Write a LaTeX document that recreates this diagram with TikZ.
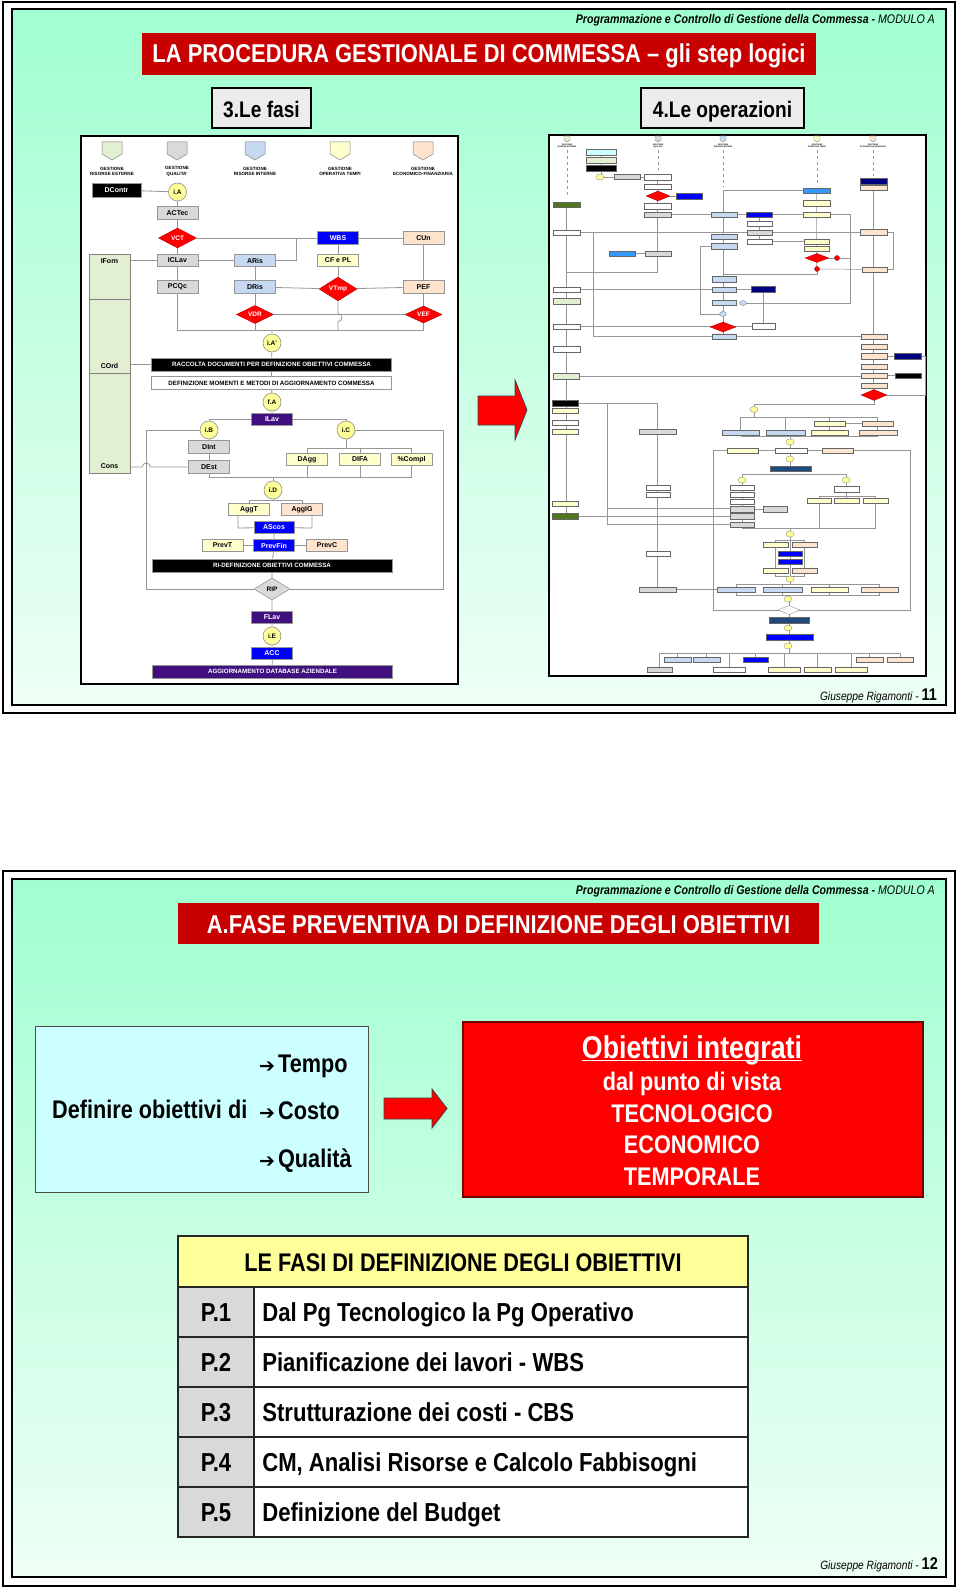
\documentclass[tikz,border=0pt]{standalone}
\usepackage{fontspec}
\setmainfont{Liberation Sans}
\newfontfamily\narrowfont[FakeStretch=0.85]{Liberation Sans}
\newfontfamily\dingfont{DejaVu Sans}
\usetikzlibrary{positioning,calc,shapes.geometric,arrows.meta}

\definecolor{mintT}{RGB}{160,255,208}
\definecolor{mintB}{RGB}{238,255,246}
\definecolor{titred}{RGB}{200,0,0}
\definecolor{boxgray}{RGB}{217,217,217}
\definecolor{lblue}{RGB}{198,217,241}
\definecolor{lyell}{RGB}{255,255,204}
\definecolor{peach}{RGB}{252,228,206}
\definecolor{laneg}{RGB}{226,239,210}
\definecolor{purp}{RGB}{64,16,128}
\definecolor{linegray}{RGB}{150,150,150}
\definecolor{cyanbox}{RGB}{204,255,255}
\definecolor{azure}{RGB}{51,153,255}
\definecolor{navy}{RGB}{0,0,128}
\definecolor{navyb}{RGB}{31,73,125}
\definecolor{dkgreen}{RGB}{79,120,30}
\definecolor{ltyellow}{RGB}{255,255,153}

\begin{document}
\begin{tikzpicture}[x=1pt,y=-1pt,
    conn/.style={draw=linegray, line width=0.8},
    oline/.style={draw=linegray, line width=0.5},
    fbox/.style={rectangle, draw=linegray, line width=0.6, minimum width=41, minimum height=12.5, inner sep=0pt, font=\bfseries\fontsize{7}{8}\selectfont},
    gbox/.style={fbox, fill=boxgray},
    bbox/.style={fbox, fill=lblue},
    ybox/.style={fbox, fill=lyell},
    pbox/.style={fbox, fill=peach},
    wbox/.style={fbox, fill=white},
    kbox/.style={fbox, fill=black, text=white},
    blbox/.style={fbox, fill=blue, text=white},
    pubox/.style={fbox, fill=purp, text=white},
    wide/.style={minimum width=240, minimum height=13, font=\bfseries\fontsize{6.2}{7}\selectfont},
    dec/.style={diamond, fill=red, draw=red!70!black, line width=0.4, minimum width=38, minimum height=20, inner sep=0pt, text=white, font=\bfseries\fontsize{6.5}{7}\selectfont},
    ring/.style={circle, fill=ltyellow, draw=gray, line width=0.5, minimum size=18, inner sep=0pt, font=\bfseries\fontsize{6.5}{7}\selectfont},
    lane/.style={rectangle, draw=gray, line width=0.6, fill=laneg, minimum width=41, inner sep=0pt},
    lanetxt/.style={font=\bfseries\fontsize{7}{8}\selectfont, inner sep=0pt},
    lanelbl/.style={font=\bfseries\fontsize{4.6}{5.6}\selectfont, align=center, inner sep=0pt},
    mini/.style={rectangle, draw=gray!80!black, line width=0.3, minimum height=5.5, inner sep=0pt},
    minidot/.style={ellipse, fill=ltyellow, draw=gray, line width=0.3, minimum width=8, minimum height=6, inner sep=0pt},
    minidec/.style={diamond, fill=red, draw=red!60!black, line width=0.3, inner sep=0pt},
    header/.style={font=\narrowfont\itshape\fontsize{12.5}{14}\selectfont, inner sep=0pt},
    banner/.style={fill=titred, text=white, inner sep=0pt},
    bantxt/.style={text=white, font=\narrowfont\bfseries\fontsize{25.8}{28}\selectfont, inner sep=0pt},
    stepbox/.style={draw, line width=1.8, fill=gray!15, inner sep=0pt},
    frame/.style={draw, line width=1.6, fill=white, inner sep=0pt},
    bigarrow/.style={fill=red, draw=black!75, line width=0.8},
    bigtxt/.style={font=\narrowfont\bfseries\fontsize{25.5}{28}\selectfont, inner sep=0pt},
    cell/.style={draw=black!85, line width=1.8, inner sep=0pt, minimum height=50}
  ]
\useasboundingbox (0,0) rectangle (960,1589);
\fill[white] (0,0) rectangle (960,1589);

% ---------------- slide 11 ----------------
\shade[top color=mintT, bottom color=mintB] (12,9) rectangle (946,705);
\draw[line width=2.5] (3,2) rectangle (955,713);
\draw[line width=2.5] (12,9) rectangle (946,705);

\node[header, anchor=base east] (head1) at (935,24) {\textbf{Programmazione e Controllo di Gestione della Commessa -} MODULO A};
\node[banner, minimum width=674, minimum height=42] (title1) at (479,54) {};
\node[bantxt, anchor=base] (title1t) at (479,63) {LA PROCEDURA GESTIONALE DI COMMESSA – gli step logici};

\node[stepbox, minimum width=99, minimum height=40] (fasi) at (261.5,108) {};
\node[bigtxt, font=\narrowfont\bfseries\fontsize{22.5}{26}\selectfont, anchor=base] (fasit) at (261.5,118) {3.Le fasi};
\node[stepbox, minimum width=163, minimum height=40] (oper) at (722.5,108) {};
\node[bigtxt, font=\narrowfont\bfseries\fontsize{22.5}{26}\selectfont, anchor=base] (opert) at (722.5,118) {4.Le operazioni};

\node[frame, minimum width=377, minimum height=548] (leftfr) at (269.5,410) {};
\node[frame, minimum width=377, minimum height=541] (rightfr) at (737.5,405.5) {};

\draw[bigarrow] (478,396) -- (515,396) -- (515,380) -- (527,410) -- (515,440) -- (515,425) -- (478,425) -- cycle;

% lane heads
\foreach \hx/\hc/\lt in {112/laneg/RISORSE ESTERNE,177/boxgray/QUALITA',255/lblue/RISORSE INTERNE,340/lyell/OPERATIVA TEMPI,423/peach/ECONOMICO-FINANZIARIA}{
  \draw[draw=gray, line width=0.5, fill=\hc] (\hx-10,142) -- (\hx+10,142) -- (\hx+10,154) -- (\hx,160) -- (\hx-10,154) -- cycle;
  \node[lanelbl] (gest\hx) at (\hx,171.5) {GESTIONE\\\lt};
}

% lanes on the left
\node[lane, minimum height=45] (lnF) at (109.5,276.5) {};
\node[lane, minimum height=74] (lnO) at (109.5,336) {};
\node[lane, minimum height=100] (lnC) at (109.5,423) {};
\node[lanetxt] (tF) at (109.5,261) {IForn};
\node[lanetxt] (tO) at (109.5,366) {COrd};
\node[lanetxt] (tC) at (109.5,466) {Cons};

% phases
\node[kbox, minimum width=49, minimum height=14] (DContr) at (116.5,190) {DContr};
\node[ring] (iA) at (177.5,192) {i.A};
\node[gbox] (ACTec) at (177.5,213) {ACTec};
\node[dec] (VCT) at (177.5,238) {VCT};
\node[blbox] (WBS) at (338,238) {WBS};
\node[pbox] (CUn) at (423.5,238) {CUn};
\node[gbox] (ICLav) at (177.5,260.5) {ICLav};
\node[bbox] (ARis) at (255,260.5) {ARis};
\node[ybox] (CFPL) at (338,260.5) {CF e PL};
\node[gbox] (PCQc) at (177.5,287) {PCQc};
\node[bbox] (DRis) at (255,287) {DRis};
\node[dec, minimum height=18] (VTmp) at (338,289) {VTmp};
\node[pbox] (PEF) at (423.5,287) {PEF};
\node[dec, minimum width=37, minimum height=17] (VDR) at (255,314.5) {VDR};
\node[dec, minimum width=37, minimum height=17] (VEF) at (423.5,314.5) {VEF};
\coordinate (jA) at (296,238);
\coordinate (cL) at (177.5,330);
\coordinate (cR) at (423.5,330);
\node[ring] (iAp) at (272,343) {i.A'};
\node[kbox, wide] (RACC) at (271.5,364.5) {RACCOLTA DOCUMENTI PER DEFINIZIONE OBIETTIVI COMMESSA};
\node[wbox, wide] (DEF) at (271.5,383) {DEFINIZIONE MOMENTI E METODI DI AGGIORNAMENTO COMMESSA};
\node[ring] (fA) at (272,402) {f.A};
\node[pubox] (ILav) at (272,419.5) {ILav};
\node[ring] (iB) at (209,430) {i.B};
\node[ring] (iC) at (346,430) {i.C};
\node[gbox] (DInt) at (209,447) {DInt};
\node[gbox] (DEst) at (209,467) {DEst};
\node[ybox] (DAgg) at (307,459.5) {DAgg};
\node[ybox] (DIFA) at (360,459.5) {DIFA};
\node[ybox] (Compl) at (411.5,459.5) {\%Compl};
\node[ring] (iD) at (273,490) {i.D};
\node[ybox] (AggT) at (249,509.5) {AggT};
\node[pbox] (AggIG) at (302,509.5) {AggIG};
\node[blbox, minimum width=40] (AScos) at (274,527.5) {AScos};
\node[ybox] (PrevT) at (222.5,545.5) {PrevT};
\node[blbox] (PrevFin) at (274,545.5) {PrevFin};
\node[pbox] (PrevC) at (327,545.5) {PrevC};
\node[kbox, wide] (RIDEF) at (272,565.5) {RI-DEFINIZIONE OBIETTIVI COMMESSA};
\node[dec, fill=boxgray, draw=gray, text=black, minimum width=36, minimum height=22] (RIP) at (272,589) {RIP};
\node[pubox, minimum height=12] (FLav) at (272,617) {FLav};
\node[ring] (iE) at (272,636) {i.E};
\node[blbox, minimum height=12] (ACC) at (272,653) {ACC};
\node[pubox, wide] (AGG) at (272.5,671.5) {AGGIORNAMENTO DATABASE AZIENDALE};
\coordinate (loopL) at (146,589);
\coordinate (loopR) at (443,589);
\coordinate (sC) at (346,448);
\coordinate (sD) at (273,477);
\coordinate (sE) at (273,500);
\coordinate (sF) at (238,528);
\coordinate (sG) at (312,528);

% links
\draw[conn] (DContr) -- (iA);
\draw[conn] (iA) -- (ACTec) -- (VCT) -- (ICLav) -- (PCQc);
\draw[conn] (VCT) -- (WBS) -- (CUn);
\draw[conn] (ARis) -- (ARis -| jA) -- (jA);
\draw[conn] (lnF.east |- ICLav) -- (ICLav) -- (ARis);
\draw[conn] (ARis) -- (DRis) -- (VDR);
\draw[conn] (WBS) -- (CFPL) -- (VTmp);
\draw[conn] (DRis) -- (VTmp) -- (PEF);
\draw[conn] (CUn) -- (PEF) -- (VEF);
\draw[conn] (VDR) -- (VEF);
\draw[conn] (VTmp.south) -- ++(0,12.5) arc (-90:90:4) -- (VTmp |- cL);
\draw[conn] (PCQc) -- (cL) -- (cR) -- (VEF);
\draw[conn] (VDR) -- (VDR |- cL);
\draw[conn] (iAp |- cL) -- (iAp) -- (RACC) -- (DEF) -- (fA) -- (ILav);
\draw[conn] (lnO.east |- RACC) -- (RACC);
\draw[conn] (ILav) -| (iB);
\draw[conn] (ILav) -| (iC);
\draw[conn] (iB) -| (loopL) -- (RIP);
\draw[conn] (iC) -| (loopR) -- (RIP);
\draw[conn] (iB) -- (DInt) -- (DEst);
\draw[conn] (lnC.east |- DEst) -- ++(12,0) arc (180:360:4) -- (DEst);
\draw[conn] (iC) -- (sC);
\draw[conn] (DAgg |- sC) -- (Compl |- sC);
\draw[conn] (DAgg |- sC) -- (DAgg);
\draw[conn] (DIFA |- sC) -- (DIFA);
\draw[conn] (Compl |- sC) -- (Compl);
\draw[conn] (DEst) -- (DEst |- sD) -- (Compl |- sD) -- (Compl);
\draw[conn] (DAgg) -- (DAgg |- sD);
\draw[conn] (DIFA) -- (DIFA |- sD);
\draw[conn] (sD) -- (iD) -- (sE);
\draw[conn] (AggT |- sE) -- (AggIG |- sE);
\draw[conn] (AggT |- sE) -- (AggT);
\draw[conn] (AggIG |- sE) -- (AggIG);
\draw[conn] (AggT.south -| sF) -- (sF) -- (AScos);
\draw[conn] (AggIG.south -| sG) -- (sG) -- (AScos);
\draw[conn] (AScos) -- (PrevFin) -- (RIDEF) -- (RIP) -- (FLav) -- (iE) -- (ACC) -- (AGG);
\draw[conn] (PrevT) -- (PrevFin) -- (PrevC);

% operations (thumbnail)
\foreach \hx/\hc/\lt/\ly in {567/laneg/RISORSE ESTERNE/197,658/boxgray/QUALITA'/170,723/lblue/RISORSE INTERNE/187,817/lyell/OPERATIVA TEMPI/186,873/peach/ECONOMICO-FINANZIARIA/176}{
  \draw[draw=gray, line width=0.3, fill=\hc] (\hx-3,136) -- (\hx+3,136) -- (\hx+3,140) -- (\hx,142) -- (\hx-3,140) -- cycle;
  \node[font=\bfseries\fontsize{2}{2.4}\selectfont, align=center, inner sep=0pt] (og\hx) at (\hx,146) {GESTIONE\\\lt};
  \draw[oline, dashed] (\hx,150) -- (\hx,\ly);
}
\draw[oline] (601,152) -- (601,177) -- (657.5,177) -- (657.5,272) -- (566,272);
\draw[oline] (658,196) -- (689,196);
\draw[oline] (657.5,214.5) -- (816.5,214.5);
\draw[oline] (723,190) -- (723,336.5);
\draw[oline] (723,190) -- (816.5,190);
\draw[oline] (816.5,190.5) -- (816.5,269) -- (874.5,269.5);
\draw[oline] (759.5,214.5) -- (759.5,241.5) -- (816.5,241.5);
\draw[oline] (817,258) -- (850,258) -- (850,214.5) -- (816.5,214.5);
\draw[oline] (743,303) -- (850,303) -- (850,258);
\draw[oline] (817,269) -- (817,274) -- (723,274);
\draw[oline] (873.5,181) -- (873.5,395);
\draw[oline] (566,204.5) -- (566,516);
\draw[oline] (566,232.5) -- (873.5,232.5) -- (893,232.5) -- (893,269.5) -- (874.5,269.5);
\draw[oline] (566,289.5) -- (763,289.5) -- (763,326);
\draw[oline] (593,232.5) -- (593,336.5) -- (874.5,336.5);
\draw[oline] (566,326.5) -- (763.5,326.5);
\draw[oline] (724,246) -- (700,246) -- (700,314) -- (723,314);
\draw[oline] (566,376) -- (874.5,376);
\draw[oline] (874.5,356) -- (907.5,356);
\draw[oline] (874.5,375.5) -- (908,375.5);
\draw[oline] (874,395) -- (925,395) -- (925,356) -- (907.5,356);
\draw[oline] (874,395) -- (874,404) -- (754,404) -- (754,417);
\draw[oline] (622,253.5) -- (658,253.5);
\draw[oline] (565,403) -- (657,403) -- (657,589.5) -- (736,589.5);
\draw[oline] (607,403) -- (607,524) -- (742,524);
\draw[oline] (607,508) -- (742,508);
\draw[oline] (565,516) -- (742,516);
\draw[oline] (740.5,417) -- (878,417);
\draw[oline] (829.5,423.5) -- (877.5,423.5);
\foreach \vx in {740.5,785.5,829.5,877.5} \draw[oline] (\vx,417) -- (\vx,436);
\draw[oline] (740.5,436) -- (878,436);
\draw[oline] (790,436) -- (790,468.5);
\draw[oline] (790,450) -- (713,450) -- (713,610) -- (910,610) -- (910,450) -- (790,450);
\draw[oline] (742,474) -- (846,474);
\draw[oline] (742,474) -- (742,528);
\draw[oline] (846,474) -- (846,500.5);
\draw[oline] (742,509) -- (775,509);
\draw[oline] (819,496) -- (875.5,496);
\draw[oline] (819,496) -- (819,528);
\draw[oline] (875.5,496) -- (875.5,528);
\draw[oline] (742,528) -- (875.5,528);
\draw[oline] (790,528) -- (790,584);
\draw[oline] (775.5,540) -- (804.5,540) -- (804.5,576) -- (775.5,576) -- cycle;
\draw[oline] (736,584) -- (879.5,584);
\draw[oline] (736,595) -- (879.5,595);
\foreach \vx in {736,782.5,829.5,879.5} \draw[oline] (\vx,584) -- (\vx,595);
\draw[oline] (789,595) -- (789,653);
\draw[oline] (659.5,653) -- (900,653);
\foreach \vx/\vy in {659.5/669.5,677.5/659.5,706.5/659.5,729/669.5,755.5/659.5,784/669.5,817.5/669.5,851/669.5,869.5/659.5,900/659.5} \draw[oline] (\vx,653) -- (\vx,\vy);

\foreach \ox/\oy/\ow/\oc [count=\k] in {
  601/152/30/cyanbox, 601/160/30/laneg, 601/168/30/black, 627/176.5/26/boxgray,
  657.5/177/27/white, 657.5/186.5/27/white, 689/196/26/blue, 657.5/206/27/white,
  657.5/214.5/27/boxgray, 566.5/204.5/27/dkgreen, 724/214.5/26/lblue, 759/214.5/26/blue,
  816.5/190.5/27/azure, 816.5/203/27/lyell, 816.5/214.5/27/lyell, 873.5/181/27/navy,
  873.5/187.5/27/peach, 566.5/232.5/27/white, 873.5/232/27/peach, 759.5/223.5/25/white,
  759.5/232.5/25/boxgray, 759.5/241.5/25/white, 724/236.5/26/lblue, 724/246/26/lblue,
  816.5/241.5/25/lyell, 816.5/248.5/25/lyell, 874.5/269.5/25/peach, 622/253.5/26/azure,
  658/253.5/26/boxgray, 566.5/289.5/27/white, 566.5/301/27/laneg, 724/279/24/lblue,
  724/289.5/24/lblue, 763/289/24/navy, 724/302.5/24/lblue, 763.5/326/23/white,
  724/336.5/24/lblue, 566.5/326.5/27/white, 566.5/349/27/white, 566/376/26/laneg,
  874.5/336.5/26/peach, 874.5/346.5/26/peach, 874.5/356/26/peach, 874.5/366.5/26/peach,
  874.5/375.5/26/peach, 874.5/385.5/26/peach, 907.5/356/27/navy, 908/375.5/26/black,
  565/403/26/black, 565/410.5/26/lyell, 565/422.5/26/white, 565/431.5/26/lyell,
  657.5/431.5/37/boxgray, 740.5/432.5/37/lblue, 785.5/432.5/39/lblue, 829.5/423.5/31/lyell,
  877.5/423.5/31/peach, 829.5/432.5/37/lyell, 878/432.5/38/peach, 742.5/450.5/31/lyell,
  791/450.5/32/white, 837.5/450.5/31/peach, 790.5/468.5/41/navyb, 742/487.5/24/white,
  742/494.5/24/white, 742/501.5/24/white, 742/509/24/boxgray, 742/516/24/boxgray,
  742/524.5/24/boxgray, 775/509/24/boxgray, 846.5/489/25/white, 819/500.5/24/lyell,
  846.5/500.5/25/lyell, 875.5/500.5/25/lyell, 775.5/544.5/25/lyell, 804.5/544.5/25/peach,
  790/553.5/24/blue, 790/561.5/24/blue, 775.5/570.5/25/lyell, 804.5/570.5/25/peach,
  736/589.5/38/lblue, 782.5/589.5/39/lblue, 829.5/589.5/37/lyell, 879.5/589.5/37/peach,
  657.5/589.5/37/boxgray, 658/553.5/24/white, 658/487.5/24/white, 658/494.5/24/white,
  789/620/40/navyb, 789.5/637/47/blue, 677.5/659.5/27/lblue, 706.5/659.5/27/lblue,
  755.5/659.5/25/blue, 869.5/659.5/27/peach, 900/659.5/26/peach, 659.5/669.5/25/boxgray,
  729/669.5/32/white, 784/669.5/32/lyell, 817.5/669.5/27/lyell, 851/669.5/32/lyell,
  565/516/26/dkgreen, 565/503.5/26/lyell}
  \node[mini, minimum width=\ow, fill=\oc] (op\k) at (\ox,\oy) {};
\foreach \ox/\oy [count=\k] in {600/177,754/409.5,790/442,790/459,742/480,846/480,790/534,790/579,788/599,788/628,788/646}
  \node[minidot] (dot\k) at (\ox,\oy) {};
\node[minidot, fill=lblue, minimum width=7, minimum height=5] (dotb1) at (743,303) {};
\node[minidot, fill=lblue, minimum width=7, minimum height=5] (dotb2) at (723,314) {};
\node[minidec, minimum width=24, minimum height=10] (q1) at (658,196) {};
\node[minidec, minimum width=24, minimum height=9] (q2) at (817,258) {};
\node[minidec, minimum width=26, minimum height=10] (q3) at (723,327) {};
\node[minidec, minimum width=26, minimum height=11] (q4) at (874,395) {};
\node[minidec, fill=white, draw=gray, minimum width=22, minimum height=9] (q5) at (789,610) {};
\node[circle, fill=red, draw=red!60!black, line width=0.3, minimum size=5, inner sep=0pt] (r1) at (837,258) {};
\node[circle, fill=red, draw=red!60!black, line width=0.3, minimum size=5, inner sep=0pt] (r2) at (817,269) {};

\node[anchor=base east, inner sep=0pt] (foot1) at (937,700) {{\narrowfont\itshape\fontsize{12}{14}\selectfont Giuseppe Rigamonti - }{\narrowfont\bfseries\fontsize{17}{18}\selectfont 11}};

% ---------------- slide 12 ----------------
\shade[top color=mintT, bottom color=mintB] (12,879) rectangle (946,1577);
\draw[line width=2.5] (3,871) rectangle (955,1586);
\draw[line width=2.5] (12,879) rectangle (946,1577);

\node[header, anchor=base east] (head2) at (935,894) {\textbf{Programmazione e Controllo di Gestione della Commessa -} MODULO A};
\node[banner, minimum width=641, minimum height=41] (title2) at (498.5,923.5) {};
\node[bantxt, anchor=base] (title2t) at (498.5,933) {A.FASE PREVENTIVA DI DEFINIZIONE DEGLI OBIETTIVI};

\node[draw=black!70, line width=1, fill=cyanbox, minimum width=333, minimum height=166, inner sep=0pt] (defin) at (201.5,1109) {};
\node[bigtxt, anchor=base west] (defi) at (52,1118) {Definire obiettivi di};
\node[bigtxt, anchor=base west] (tempo) at (259,1072) {{\dingfont\fontsize{19}{19}\selectfont ➔}\hspace{3pt}Tempo};
\node[bigtxt, anchor=base west] (costo) at (259,1119) {{\dingfont\fontsize{19}{19}\selectfont ➔}\hspace{3pt}Costo};
\node[bigtxt, anchor=base west] (qual) at (259,1167) {{\dingfont\fontsize{19}{19}\selectfont ➔}\hspace{3pt}Qualità};

\draw[bigarrow] (384,1098) -- (432,1098) -- (432,1089) -- (447,1108.5) -- (432,1128) -- (432,1119) -- (384,1119) -- cycle;

\node[fill=red, draw=red!45!black, line width=1.2, minimum width=460, minimum height=175, inner sep=0pt] (integr) at (693,1109.5) {};
\node[bigtxt, text=white, font=\narrowfont\bfseries\fontsize{31.5}{34}\selectfont, anchor=base] (obi) at (692,1058) {Obiettivi integrati};
\draw[white, line width=1.6] ([yshift=-2.5pt]obi.base west) -- ([yshift=-2.5pt]obi.base east);
\node[bigtxt, text=white, anchor=base] (punto) at (692,1090) {dal punto di vista};
\node[bigtxt, text=white, anchor=base] (tecno) at (692,1122) {TECNOLOGICO};
\node[bigtxt, text=white, anchor=base] (econ) at (692,1153) {ECONOMICO};
\node[bigtxt, text=white, anchor=base] (temp) at (692,1185) {TEMPORALE};

% table of phases
\node[cell, fill=ltyellow, minimum width=570, minimum height=51] (thd) at (463,1261.5) {};
\node[bigtxt, anchor=base] (thdt) at (463,1271) {LE FASI DI DEFINIZIONE DEGLI OBIETTIVI};
\foreach \i/\t in {1/Dal Pg Tecnologico la Pg Operativo,2/Pianificazione dei lavori - WBS,3/Strutturazione dei costi - CBS,4/{CM, Analisi Risorse e Calcolo Fabbisogni},5/Definizione del Budget}{
  \node[cell, fill=boxgray, minimum width=76] (p\i) at (216,{1312+50*(\i-1)}) {};
  \node[cell, fill=white, minimum width=494] (t\i) at (501,{1312+50*(\i-1)}) {};
  \node[bigtxt, font=\narrowfont\bfseries\fontsize{26}{28}\selectfont, text height=18, text depth=0] (pt\i) at (p\i) {P.\i};
  \node[bigtxt, font=\narrowfont\bfseries\fontsize{26}{28}\selectfont, text height=18, text depth=0, anchor=west] (tt\i) at ([xshift=9pt]t\i.west) {\t};
}

\node[anchor=base east, inner sep=0pt] (foot2) at (938,1569) {{\narrowfont\itshape\fontsize{12}{14}\selectfont Giuseppe Rigamonti - }{\narrowfont\bfseries\fontsize{17}{18}\selectfont 12}};
\end{tikzpicture}
\end{document}
